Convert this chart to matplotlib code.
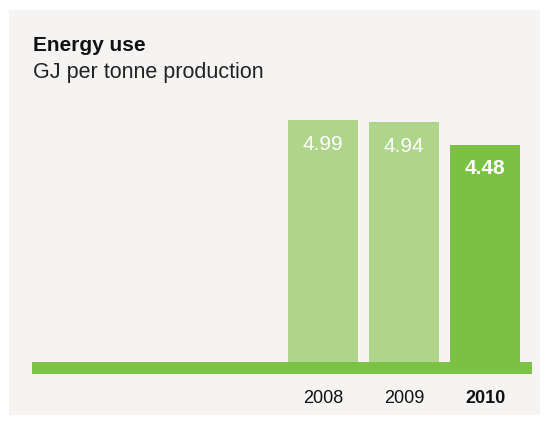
import matplotlib
matplotlib.use("Agg")
import matplotlib.pyplot as plt
from matplotlib.patches import Rectangle
import matplotlib.transforms as mtransforms

plt.rcParams['font.family'] = ['Liberation Sans', 'DejaVu Sans']

years = ["2008", "2009", "2010"]
values = [4.99, 4.94, 4.48]
highlight = [False, False, True]

PANEL = "#f5f4f2"
LIGHT_GREEN = "#afd58b"
GREEN = "#7bc143"

W, H = 549, 423
DPI = 100
fig = plt.figure(figsize=(W / DPI, H / DPI), dpi=DPI)
fig.patch.set_facecolor("white")

# background panel
fig.patches.append(Rectangle((9 / W, 8 / H), 531 / W, 405 / H,
                             transform=fig.transFigure, facecolor=PANEL,
                             edgecolor="none", zorder=-10))

# title block
fig.text(33 / W, 1 - 51 / H, "Energy use", fontsize=15, fontweight="bold",
         color="#111111", va="baseline", ha="left")
fig.text(33 / W, 1 - 78 / H, "GJ per tonne production", fontsize=15.5,
         color="#222222", va="baseline", ha="left")

# plot area in pixels
left_px, right_px = 32, 532
base_top_px, base_bot_px, top_px = 362, 374, 100
ax = fig.add_axes([left_px / W, 1 - base_bot_px / H,
                   (right_px - left_px) / W, (base_bot_px - top_px) / H])
ax.set_facecolor("none")
ax.set_zorder(1)
for s in ax.spines.values():
    s.set_visible(False)
ax.set_xticks([])
ax.set_yticks([])

px_per_unit = (base_top_px - 120) / 4.99
ax.set_ylim(-(base_bot_px - base_top_px) / px_per_unit,
            (base_top_px - top_px) / px_per_unit)
step = 81.0
ax.set_xlim(-(323 - left_px) / step, 2 + (right_px - 485) / step)

xs = list(range(len(years)))
colors = [GREEN if h else LIGHT_GREEN for h in highlight]
ax.bar(xs, values, width=70 / step, color=colors, edgecolor="none", zorder=2)

# baseline strip
ax.axhspan(ax.get_ylim()[0], 0, color=GREEN, zorder=3, lw=0)

for x, v, h in zip(xs, values, highlight):
    ax.annotate(f"{v:.2f}", (x, v), xytext=(0, -24), textcoords="offset pixels",
                ha="center", va="center", color="white", fontsize=15,
                fontweight="bold" if h else "normal", zorder=4)

trans = mtransforms.blended_transform_factory(ax.transData, ax.transAxes)
for x, y, h in zip(xs, years, highlight):
    ax.annotate(y, (x, 0), xycoords=trans, xytext=(0, -24),
                textcoords="offset pixels", ha="center", va="center",
                color="#111111", fontsize=13,
                fontweight="bold" if h else "normal", annotation_clip=False)

fig.savefig("out.png", dpi=DPI, facecolor=fig.get_facecolor())
